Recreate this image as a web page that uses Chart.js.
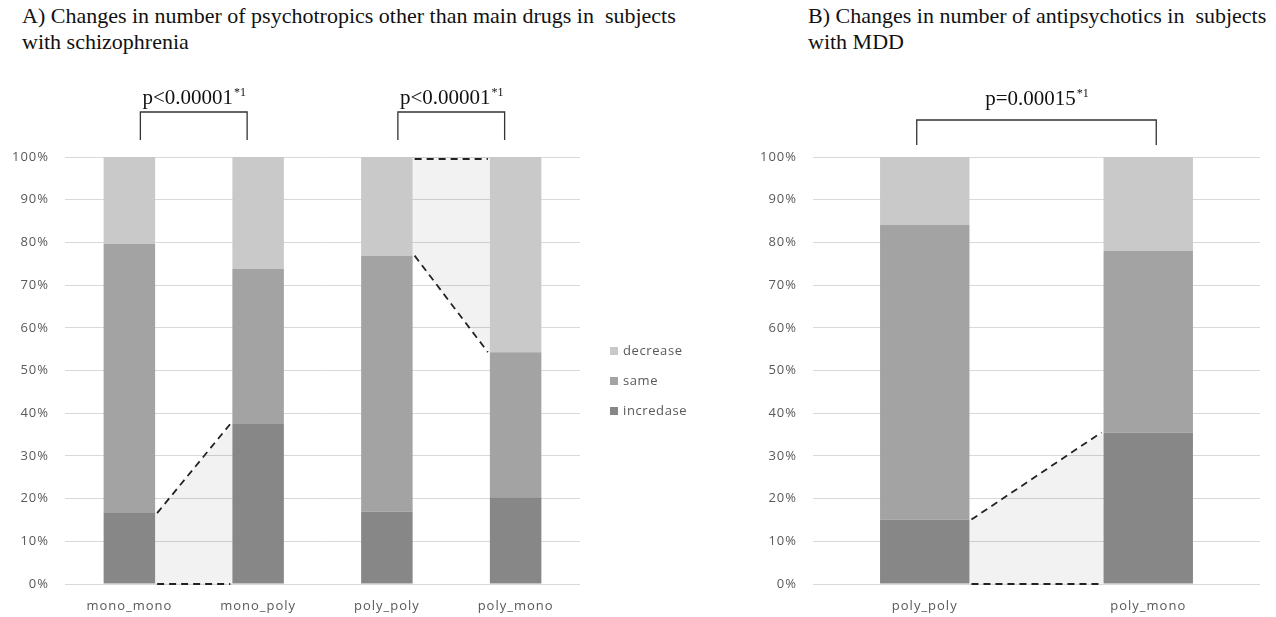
<!DOCTYPE html>
<html lang="en">

<head>
    <meta charset="UTF-8">
    <title>Changes in number of psychotropics</title>
    <script src="https://cdn.jsdelivr.net/npm/chart.js"></script>
    <style>
        body {
            margin: 0;
            background: #fff;
            width: 1276px;
            height: 617px;
            position: relative;
            overflow: hidden;
        }

        .title {
            position: absolute;
            font-family: "Liberation Serif", "Times New Roman", serif;
            font-size: 22px;
            line-height: 26px;
            color: #111;
            white-space: pre;
        }

        .panel {
            position: absolute;
            top: 0;
            height: 617px;
        }
    </style>
</head>

<body>
    <div class="title" style="left:22px; top:3px;">A) Changes in number of psychotropics other than main drugs in  subjects
with schizophrenia</div>
    <div class="title" style="left:808px; top:3px;">B) Changes in number of antipsychotics in  subjects
with MDD</div>

    <div class="panel" style="left:0; width:700px;"><canvas id="chartA"></canvas></div>
    <div class="panel" style="left:700px; width:576px;"><canvas id="chartB"></canvas></div>

    <script>
        // Panel A: schizophrenia
        const labelsA = ['mono_mono', 'mono_poly', 'poly_poly', 'poly_mono'];
        const increaseA = [16.6, 37.5, 16.9, 20.3];
        const sameA = [63.0, 36.3, 60.0, 34.0];
        const decreaseA = [20.4, 26.2, 23.1, 45.7];

        // Panel B: MDD
        const labelsB = ['poly_poly', 'poly_mono'];
        const increaseB = [15.1, 35.5];
        const sameB = [69.0, 42.5];
        const decreaseB = [15.9, 22.0];

        const seriesNames = ['incredase', 'same', 'decrease'];
        const seriesColors = ['#878787', '#a3a3a3', '#c9c9c9'];
        const yTicks = [0, 10, 20, 30, 40, 50, 60, 70, 80, 90, 100];

        // brackets: [fromIndex, toIndex, text]
        const bracketsA = [[0, 1, 'p<0.00001'], [2, 3, 'p<0.00001']];
        const bracketsB = [[0, 1, 'p=0.00015']];

        // shaded connectors between bars: from, to, lower stack level, upper stack level
        const linksA = [[0, 1, 0, 1], [2, 3, 2, 3]];
        const linksB = [[0, 1, 0, 1]];

        const tickFont = { family: '"Open Sans", sans-serif', size: 13 };

        function stackLevel(chart, idx, level) {
            let sum = 0;
            for (let i = 0; i < level; i++) sum += chart.data.datasets[i].data[idx];
            return sum;
        }

        const extrasPlugin = {
            id: 'extras',
            beforeDraw(chart) {
                chart.ctx.letterSpacing = '1px';
            },
            beforeDatasetsDraw(chart, args, opts) {
                const ctx = chart.ctx;
                const y = chart.scales.y;
                const meta = chart.getDatasetMeta(0);
                opts.links.forEach(([a, b, lo, hi]) => {
                    const ba = meta.data[a], bb = meta.data[b];
                    const x1 = ba.x + ba.width / 2, x2 = bb.x - bb.width / 2;
                    const a0 = y.getPixelForValue(stackLevel(chart, a, lo));
                    const a1 = y.getPixelForValue(stackLevel(chart, a, hi));
                    const b0 = y.getPixelForValue(stackLevel(chart, b, lo));
                    const b1 = y.getPixelForValue(stackLevel(chart, b, hi));
                    ctx.save();
                    ctx.fillStyle = 'rgba(0,0,0,0.05)';
                    ctx.beginPath();
                    ctx.moveTo(x1, a0);
                    ctx.lineTo(x1, a1);
                    ctx.lineTo(x2, b1);
                    ctx.lineTo(x2, b0);
                    ctx.closePath();
                    ctx.fill();
                    ctx.restore();
                });
            },
            afterDatasetsDraw(chart, args, opts) {
                const ctx = chart.ctx;
                const y = chart.scales.y;
                const meta = chart.getDatasetMeta(0);
                ctx.save();
                ctx.letterSpacing = '0px';
                // dashed connector lines
                ctx.strokeStyle = '#222';
                ctx.lineWidth = 1.8;
                ctx.setLineDash([7, 5]);
                opts.links.forEach(([a, b, lo, hi]) => {
                    const ba = meta.data[a], bb = meta.data[b];
                    const x1 = ba.x + ba.width / 2 + 2, x2 = bb.x - bb.width / 2 - 2;
                    [lo, hi].forEach(lv => {
                        let ya = y.getPixelForValue(stackLevel(chart, a, lv));
                        let yb = y.getPixelForValue(stackLevel(chart, b, lv));
                        if (lv === 3) { ya += 2; yb += 2; }
                        ctx.lineWidth = lv === 0 ? 2.2 : 1.8;
                        ctx.beginPath();
                        ctx.moveTo(x1, ya);
                        ctx.lineTo(x2, yb);
                        ctx.stroke();
                    });
                });
                ctx.setLineDash([]);

                // significance brackets
                ctx.strokeStyle = '#333';
                ctx.lineWidth = 1.3;
                ctx.fillStyle = '#111';
                opts.brackets.forEach(([a, b, txt]) => {
                    const xa = meta.data[a].x + opts.inset, xb = meta.data[b].x - opts.inset;
                    ctx.beginPath();
                    ctx.moveTo(xa, opts.bottom);
                    ctx.lineTo(xa, opts.top);
                    ctx.lineTo(xb, opts.top);
                    ctx.lineTo(xb, opts.bottom);
                    ctx.stroke();
                    ctx.font = '21px "Liberation Serif", serif';
                    const w1 = ctx.measureText(txt).width;
                    ctx.font = '12px "Liberation Serif", serif';
                    const w2 = ctx.measureText('*1').width;
                    const x0 = (xa + xb) / 2 - (w1 + w2) / 2;
                    ctx.textBaseline = 'alphabetic';
                    ctx.textAlign = 'left';
                    ctx.font = '21px "Liberation Serif", serif';
                    ctx.fillText(txt, x0, opts.textY);
                    ctx.font = '12px "Liberation Serif", serif';
                    ctx.fillText('*1', x0 + w1 + 1, opts.textY - 8);
                });

                // legend
                if (opts.legendX) {
                    ctx.font = '13px "Open Sans", sans-serif';
                    ctx.letterSpacing = '0.6px';
                    ctx.textBaseline = 'middle';
                    chart.data.datasets.slice().reverse().forEach((ds, i) => {
                        const yy = opts.legendY + i * 30;
                        ctx.fillStyle = ds.backgroundColor;
                        ctx.fillRect(opts.legendX, yy - 4, 8, 8);
                        ctx.fillStyle = '#595959';
                        ctx.fillText(ds.label, opts.legendX + 13, yy);
                    });
                }
                ctx.restore();
            }
        };

        function buildChart(canvasId, labels, inc, same, dec, padRight, extras) {
            const ctx = document.getElementById(canvasId).getContext('2d');
            const series = [inc, same, dec];
            return new Chart(ctx, {
                type: 'bar',
                data: {
                    labels: labels,
                    datasets: series.map((d, i) => ({
                        label: seriesNames[i],
                        data: d,
                        backgroundColor: seriesColors[i],
                        borderWidth: 0,
                        categoryPercentage: 1,
                        barPercentage: 0.4
                    }))
                },
                options: {
                    responsive: true,
                    maintainAspectRatio: false,
                    animation: false,
                    layout: { padding: { top: 157, right: padRight, bottom: 0, left: 0 } },
                    plugins: {
                        legend: { display: false },
                        tooltip: { enabled: false },
                        extras: extras
                    },
                    scales: {
                        x: {
                            stacked: true,
                            grid: { display: false, drawTicks: false },
                            border: { display: false },
                            ticks: { font: tickFont, color: '#595959', padding: 14 },
                            afterFit(scale) { scale.height = 33; }
                        },
                        y: {
                            stacked: true,
                            min: 0,
                            max: 100,
                            afterBuildTicks(scale) { scale.ticks = yTicks.map(v => ({ value: v })); },
                            grid: { color: '#d9d9d9', lineWidth: 1, drawTicks: false },
                            border: { display: false },
                            ticks: {
                                font: tickFont,
                                color: '#595959',
                                padding: 16,
                                callback: v => v + '%'
                            },
                            afterFit(scale) { scale.width = extras.axisWidth; }
                        }
                    }
                },
                plugins: [extrasPlugin]
            });
        }

        buildChart('chartA', labelsA, increaseA, sameA, decreaseA, 120, {
            links: linksA, brackets: bracketsA, inset: 11, top: 112, bottom: 140, textY: 104,
            legendX: 610, legendY: 351, axisWidth: 65
        });
        buildChart('chartB', labelsB, increaseB, sameB, decreaseB, 16, {
            links: linksB, brackets: bracketsB, inset: -8, top: 120, bottom: 145, textY: 105,
            legendX: 0, legendY: 0, axisWidth: 113
        });
    </script>
</body>

</html>
